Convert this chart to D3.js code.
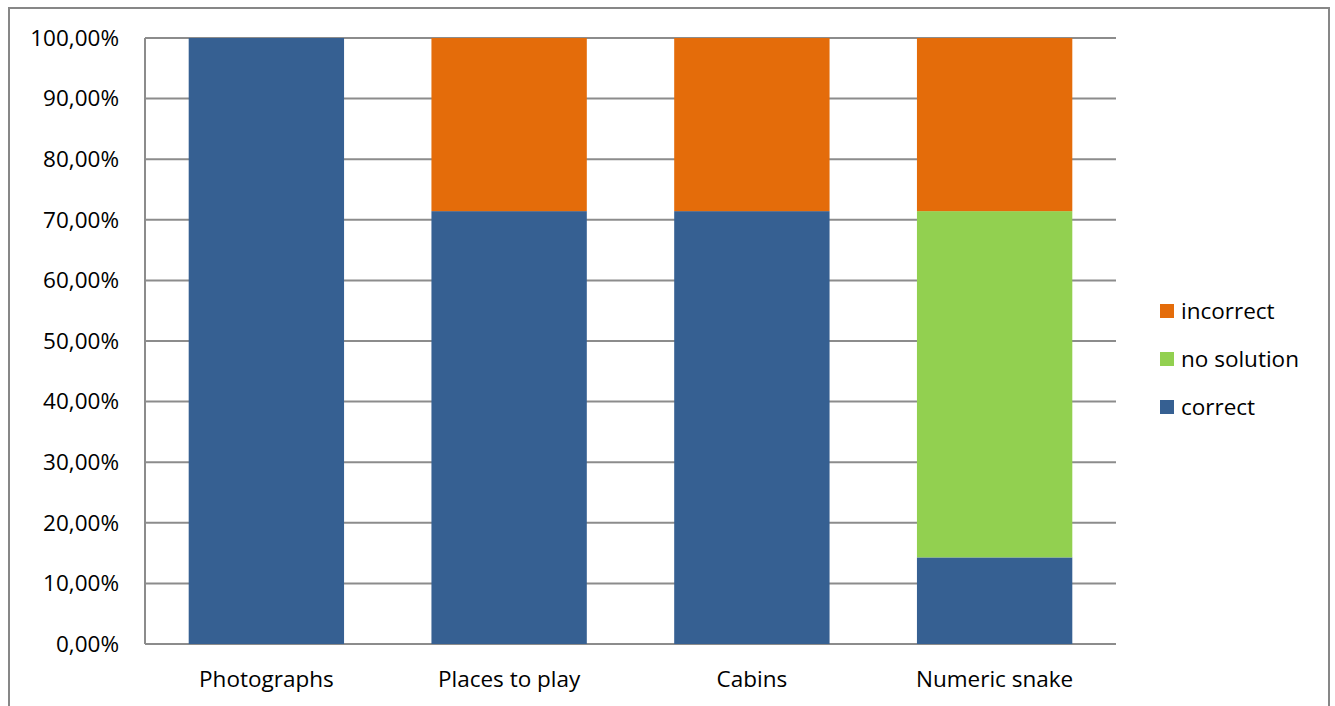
<!DOCTYPE html>
<html>
<head>
<meta charset="utf-8">
<script src="https://cdn.jsdelivr.net/npm/d3@7"></script>
<style>
  body { margin: 0; background: #fff; }
  text { font-family: "Open Sans", "Noto Sans", sans-serif; fill: #000; }
</style>
</head>
<body>
<script>
const width = 1335;
const height = 706;

// data (share of answers per task)
const categories = ["Photographs", "Places to play", "Cabins", "Numeric snake"];
const correct = [1.0, 0.7143, 0.7143, 0.1429];
const noSolution = [0, 0, 0, 0.5714];
const incorrect = [0, 0.2857, 0.2857, 0.2857];
const seriesNames = ["correct", "no solution", "incorrect"];
const seriesColours = ["#366092", "#92D050", "#E46C0A"];
const yTicks = [0, 0.1, 0.2, 0.3, 0.4, 0.5, 0.6, 0.7, 0.8, 0.9, 1.0];

const rows = categories.map((c, i) => ({
    cat: c,
    "correct": correct[i],
    "no solution": noSolution[i],
    "incorrect": incorrect[i],
}));

const svg = d3
    .select("body")
    .append("svg")
    .attr("width", width)
    .attr("height", height);

// outer chart frame (bottom edge falls outside the picture)
svg.append("path")
    .attr("d", `M9,${height + 5} V8 H1329 V${height + 5}`)
    .attr("fill", "none")
    .attr("stroke", "#878787")
    .attr("stroke-width", 2);

const margin = { top: 38, left: 145, right: 1116, bottom: 644 };

const x = d3
    .scaleBand()
    .domain(categories)
    .range([margin.left, margin.right])
    .paddingInner(0.36)
    .paddingOuter(0.18);

const y = d3.scaleLinear().domain([0, 1]).range([margin.bottom, margin.top]);

// gridlines
svg.append("g")
    .selectAll("line")
    .data(yTicks)
    .enter()
    .append("line")
    .attr("x1", margin.left)
    .attr("x2", margin.right)
    .attr("y1", (d) => y(d))
    .attr("y2", (d) => y(d))
    .attr("stroke", "#8c8c8c")
    .attr("stroke-width", 2);

// stacked bars
const stack = d3.stack().keys(seriesNames)(rows);

svg.append("g")
    .selectAll("g")
    .data(stack)
    .enter()
    .append("g")
    .attr("fill", (d, i) => seriesColours[i])
    .selectAll("rect")
    .data((d) => d)
    .enter()
    .append("rect")
    .attr("x", (d) => x(d.data.cat))
    .attr("width", x.bandwidth())
    .attr("y", (d) => y(d[1]))
    .attr("height", (d) => y(d[0]) - y(d[1]));

// y axis line
svg.append("line")
    .attr("x1", margin.left)
    .attr("x2", margin.left)
    .attr("y1", margin.top)
    .attr("y2", margin.bottom)
    .attr("stroke", "#8c8c8c")
    .attr("stroke-width", 2);

// y tick labels
const fmt = (d) => d3.format(".2f")(d * 100).replace(".", ",") + "%";
svg.append("g")
    .selectAll("text")
    .data(yTicks)
    .enter()
    .append("text")
    .attr("x", 119)
    .attr("y", (d) => y(d))
    .attr("dy", "0.35em")
    .attr("text-anchor", "end")
    .attr("font-size", "22.5px")
    .text(fmt);

// x category labels
svg.append("g")
    .selectAll("text")
    .data(categories)
    .enter()
    .append("text")
    .attr("x", (d) => x(d) + x.bandwidth() / 2)
    .attr("y", 679)
    .attr("dy", "0.35em")
    .attr("text-anchor", "middle")
    .attr("font-size", "22.5px")
    .text((d) => d);

// legend (top to bottom: incorrect, no solution, correct)
const legendOrder = seriesNames.slice().reverse();
const legendItems = svg
    .selectAll(".legend-item")
    .data(legendOrder)
    .enter()
    .append("g")
    .attr("class", "legend-item")
    .attr("transform", (d, i) => `translate(1160, ${311 + i * 48})`);

legendItems
    .append("rect")
    .attr("y", -7)
    .attr("width", 14)
    .attr("height", 14)
    .attr("fill", (d) => seriesColours[seriesNames.indexOf(d)]);

legendItems
    .append("text")
    .attr("x", 21)
    .attr("dy", "0.35em")
    .attr("font-size", "22.5px")
    .text((d) => d);
</script>
</body>
</html>
